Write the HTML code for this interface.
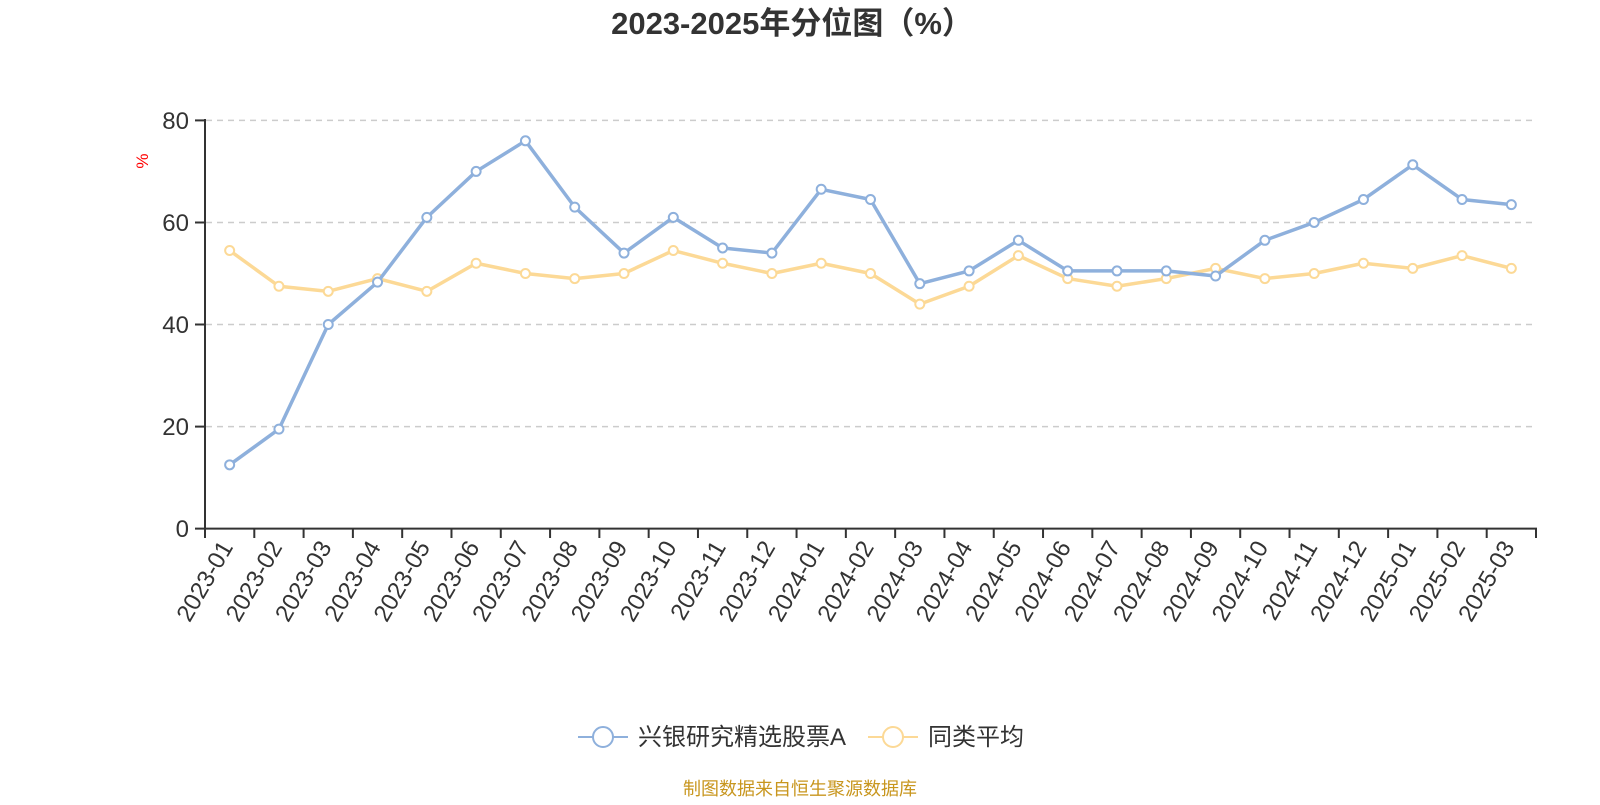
<!DOCTYPE html>
<html><head><meta charset="utf-8"><style>
body{margin:0;background:#fff;}
svg text{font-family:"Liberation Sans","Noto Sans CJK SC",sans-serif;}
</style></head><body>
<svg width="1600" height="800" xmlns="http://www.w3.org/2000/svg">
<text x="792" y="34" text-anchor="middle" font-size="31" font-weight="bold" fill="#333">2023-2025年分位图（%）</text>
<text x="0" y="0" transform="translate(148,161) rotate(-90)" text-anchor="middle" font-size="17" fill="red">%</text>
<g font-size="24" fill="#333" text-anchor="end">
<text x="189" y="129">80</text><text x="189" y="231">60</text><text x="189" y="333">40</text><text x="189" y="435">20</text><text x="189" y="537">0</text>
</g>
<g stroke="#ccc" stroke-width="1.5" stroke-dasharray="6,5">
<line x1="206" x2="1536" y1="120.4" y2="120.4"/><line x1="206" x2="1536" y1="222.5" y2="222.5"/><line x1="206" x2="1536" y1="324.5" y2="324.5"/><line x1="206" x2="1536" y1="426.6" y2="426.6"/>
</g>
<line x1="205" y1="119" x2="205" y2="529" stroke="#333" stroke-width="2"/>
<line x1="195" y1="120.4" x2="205" y2="120.4" stroke="#333" stroke-width="2"/>
<line x1="195" y1="222.5" x2="205" y2="222.5" stroke="#333" stroke-width="2"/>
<line x1="195" y1="324.5" x2="205" y2="324.5" stroke="#333" stroke-width="2"/>
<line x1="195" y1="426.6" x2="205" y2="426.6" stroke="#333" stroke-width="2"/>
<line x1="195" y1="528.6" x2="1537" y2="528.6" stroke="#333" stroke-width="2"/>
<g id="ax"></g>
<g id="ser"></g>
<line x1="578" y1="737" x2="628" y2="737" stroke="#8eb0dc" stroke-width="2"/>
<circle cx="603" cy="737" r="10" fill="#fff" stroke="#8eb0dc" stroke-width="2"/>
<text x="638" y="745" font-size="24" fill="#333">兴银研究精选股票A</text>
<line x1="868" y1="737" x2="918" y2="737" stroke="#fcd996" stroke-width="2"/>
<circle cx="893" cy="737" r="10" fill="#fff" stroke="#fcd996" stroke-width="2"/>
<text x="928" y="745" font-size="24" fill="#333">同类平均</text>
<text x="800" y="795" text-anchor="middle" font-size="18" fill="#c8961e">制图数据来自恒生聚源数据库</text>
</svg>
<script>
const labels=[];for(let y=2023;y<=2025;y++)for(let m=1;m<=12;m++){if(y==2025&&m>3)break;labels.push(y+"-"+String(m).padStart(2,"0"));}
const x0=205,bw=(1536-205)/27;
const ax=document.getElementById("ax");
let h="";
for(let i=0;i<=27;i++){const x=x0+i*bw;h+=`<line x1="${x}" y1="528" x2="${x}" y2="538" stroke="#333" stroke-width="2"/>`;}
labels.forEach((l,i)=>{const x=x0+bw*(i+0.5)+4;h+=`<text transform="translate(${x},547) rotate(-60)" text-anchor="end" font-size="24" fill="#333">${l}</text>`;});
ax.innerHTML=h;
const b=[12.5,19.5,40,48.3,61,70,76,63,54,61,55,54,66.5,64.5,48,50.5,56.5,50.5,50.5,50.5,49.5,56.5,60,64.5,71.3,64.5,63.5];
const yv=[54.5,47.5,46.5,49,46.5,52,50,49,50,54.5,52,50,52,50,44,47.5,53.5,49,47.5,49,51,49,50,52,51,53.5,51];
const Y=v=>528.6-v*5.1025;
function ser(d,c){let p=d.map((v,i)=>(x0+bw*(i+0.5))+","+Y(v)).join(" ");let s=`<polyline points="${p}" fill="none" stroke="${c}" stroke-width="3.5" stroke-linejoin="round"/>`;d.forEach((v,i)=>{s+=`<circle cx="${x0+bw*(i+0.5)}" cy="${Y(v)}" r="4.5" fill="#fff" stroke="${c}" stroke-width="2"/>`});return s;}
document.getElementById("ser").innerHTML=ser(yv,"#fcd996")+ser(b,"#8eb0dc");
</script>
</body></html>
